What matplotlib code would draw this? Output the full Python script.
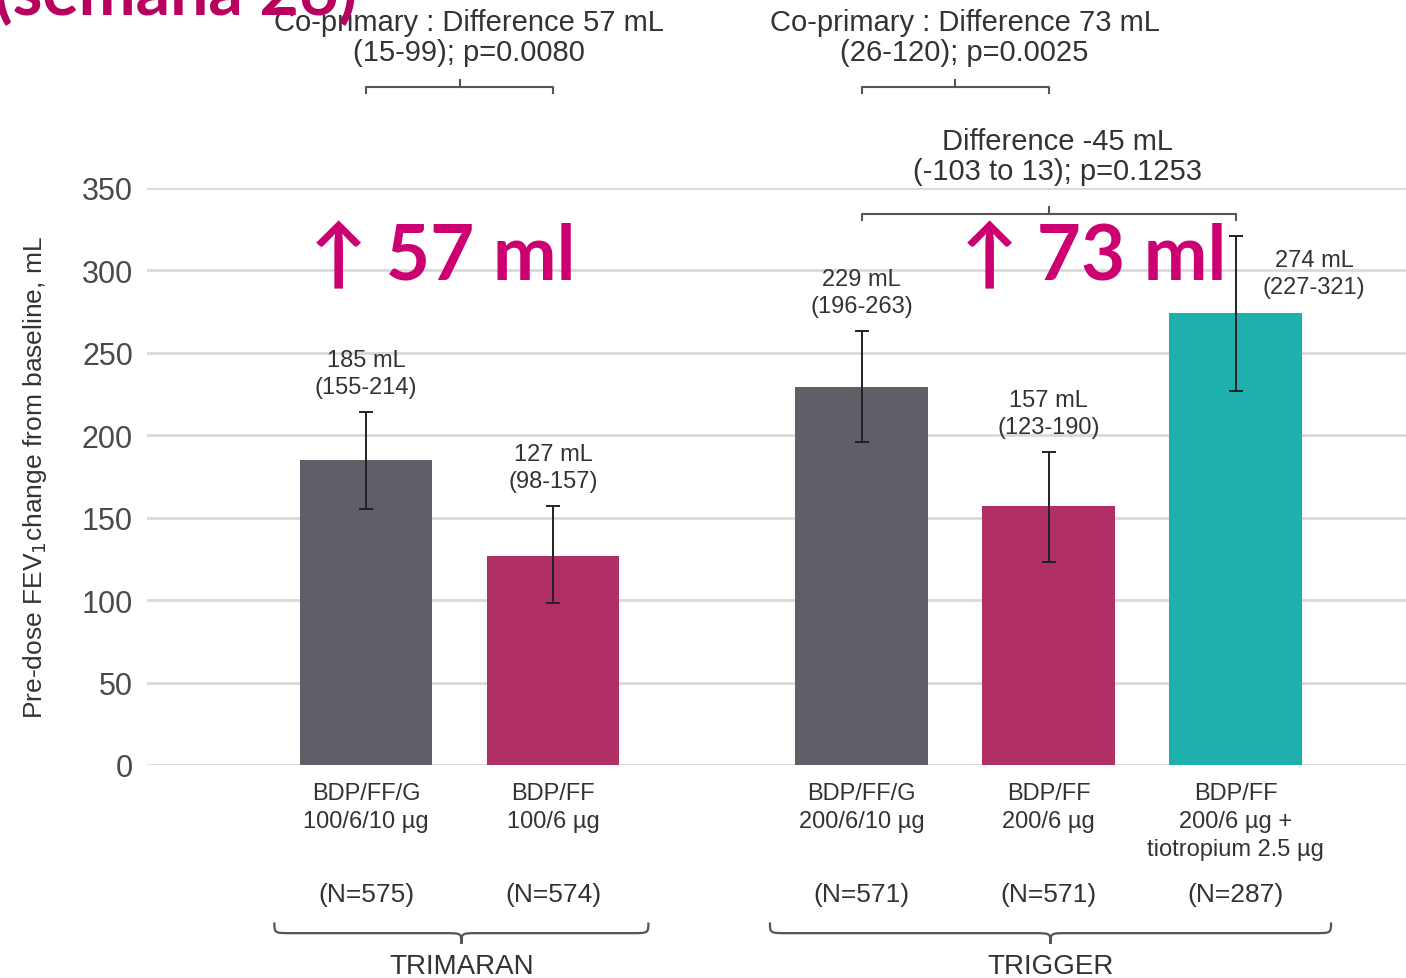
import matplotlib
matplotlib.use('Agg')
import matplotlib.pyplot as plt
from matplotlib.path import Path
from matplotlib.patches import PathPatch

# ---- data ----
arms = ['BDP/FF/G\n100/6/10 µg', 'BDP/FF\n100/6 µg',
        'BDP/FF/G\n200/6/10 µg', 'BDP/FF\n200/6 µg',
        'BDP/FF\n200/6 µg +\ntiotropium 2.5 µg']
n_labels = ['(N=575)', '(N=574)', '(N=571)', '(N=571)', '(N=287)']
means = [185, 127, 229, 157, 274]
ci_low = [155, 98, 196, 123, 227]
ci_high = [214, 157, 263, 190, 321]
positions = [0, 1, 2.65, 3.65, 4.65]
bar_colors = ['#5e5f67', '#b03066', '#5e5f67', '#b03066', '#1fafac']
studies = ['TRIMARAN', 'TRIGGER']
study_bars = [(0, 1), (2, 4)]
comparisons = [
    (0, 1, 'Co-primary : Difference 57 mL\n(15-99); p=0.0080'),
    (2, 3, 'Co-primary : Difference 73 mL\n(26-120); p=0.0025'),
    (2, 4, 'Difference -45 mL\n(-103 to 13); p=0.1253'),
]
highlights = [('↑ 57 ml', 0.41), ('↑ 73 ml', 3.89)]

# bracket heights and text gap above each bracket (data units)
bracket_y = [411, 411, 334]
bracket_gap = [13, 13, 18]

NARROW = ['Liberation Sans Narrow', 'Liberation Sans', 'DejaVu Sans']
REG = ['Liberation Sans', 'DejaVu Sans']
BIG = ['Lato', 'DejaVu Sans']
MAGENTA = '#cc0070'

fig = plt.figure(figsize=(14.06, 9.79), dpi=100)
ax = fig.add_axes([147 / 1406, 1 - 766 / 979, 1 - 147 / 1406, 577 / 979])
ax.set_xlim(-1.171, 5.561)
ax.set_ylim(0, 350)

for s in ax.spines.values():
    s.set_visible(False)
ax.set_yticks(range(0, 351, 50))
ax.set_xticks([])
ax.tick_params(axis='y', length=0, pad=10, labelsize=22, labelcolor='#4a4a4a')
for lbl in ax.get_yticklabels():
    lbl.set_family(REG)
for yv in range(0, 351, 50):
    ax.axhline(yv, color='#d9d9d9', lw=2, zorder=0)

ax.set_ylabel('Pre-dose FEV$_1$change from baseline, mL', fontsize=19,
              family=NARROW, color='#333333')
ax.yaxis.set_label_coords(-0.078, 0.5)

# bars + error bars
ax.bar(positions, means, width=0.71, color=bar_colors, zorder=2)
yerr = [[m - lo for m, lo in zip(means, ci_low)], [hi - m for m, hi in zip(means, ci_high)]]
ax.errorbar(positions, means, yerr=yerr, fmt='none', ecolor='#222222',
            elinewidth=1.4, capsize=5, capthick=1.4, zorder=3)

# value labels
for i, (x, m, lo, hi) in enumerate(zip(positions, means, ci_low, ci_high)):
    txt = f'{m} mL\n({lo}-{hi})'
    if i == len(means) - 1:
        ax.text(x + 0.42, m + 9, txt, ha='center', va='bottom', fontsize=17,
                family=NARROW, color='#333333', linespacing=1.3, zorder=4)
    else:
        ax.text(x, hi + 8.5, txt, ha='center', va='bottom', fontsize=17,
                family=NARROW, color='#333333', linespacing=1.3, zorder=4)

# comparison brackets
for (a, b, txt), yb, gap in zip(comparisons, bracket_y, bracket_gap):
    xa, xb = positions[a], positions[b]
    xm = (xa + xb) / 2
    ax.plot([xa, xa, xb, xb], [yb - 3.5, yb, yb, yb - 3.5], color='#555555',
            lw=1.5, clip_on=False)
    ax.plot([xm, xm], [yb, yb + 4.5], color='#555555', lw=1.5, clip_on=False)
    ax.text(xm + 0.05, yb + gap, txt, ha='center', va='bottom', fontsize=21,
            family=REG, color='#333333', linespacing=1.1, clip_on=False)

# highlighted differences
for txt, xc in highlights:
    ax.text(xc, 308, txt, ha='center', va='center', fontsize=55,
            fontweight='bold', family=BIG, color=MAGENTA, zorder=5)

# arm labels and sample sizes
for x, arm, n in zip(positions, arms, n_labels):
    ax.text(x, -10.5, arm, ha='center', va='top', fontsize=17, family=NARROW,
            color='#333333', linespacing=1.35, clip_on=False)
    ax.text(x, -78, n, ha='center', va='center', fontsize=19, family=REG,
            color='#333333', clip_on=False)


def curly_brace(x0, x1, ytop, ydip):
    xm = (x0 + x1) / 2
    ymid = ytop - 6.5
    d = 0.09
    verts = [(x0, ytop), (x0, ymid), (x0, ymid), (x0 + d, ymid),
             (xm - d, ymid),
             (xm, ymid), (xm, ymid), (xm, ydip),
             (xm, ymid), (xm, ymid), (xm + d, ymid),
             (x1 - d, ymid),
             (x1, ymid), (x1, ymid), (x1, ytop)]
    codes = [Path.MOVETO, Path.CURVE4, Path.CURVE4, Path.CURVE4,
             Path.LINETO,
             Path.CURVE4, Path.CURVE4, Path.CURVE4,
             Path.CURVE4, Path.CURVE4, Path.CURVE4,
             Path.LINETO,
             Path.CURVE4, Path.CURVE4, Path.CURVE4]
    patch = PathPatch(Path(verts, codes), fill=False, edgecolor='#555555',
                      lw=1.6, clip_on=False)
    ax.add_patch(patch)


for name, (i0, i1) in zip(studies, study_bars):
    x0 = positions[i0] - 0.49
    x1 = positions[i1] + 0.51
    curly_brace(x0, x1, -95.5, -108.5)
    ax.text((x0 + x1) / 2, -122, name, ha='center', va='center', fontsize=20,
            family=REG, color='#333333', clip_on=False)

# slide heading, partly above the frame
fig.text(-0.004, 1 - 15 / 979, '(semana 26)', ha='left', va='baseline',
         fontsize=49, fontweight='bold', family=BIG, color='#b8005f')

fig.savefig('out.png', dpi=100)
